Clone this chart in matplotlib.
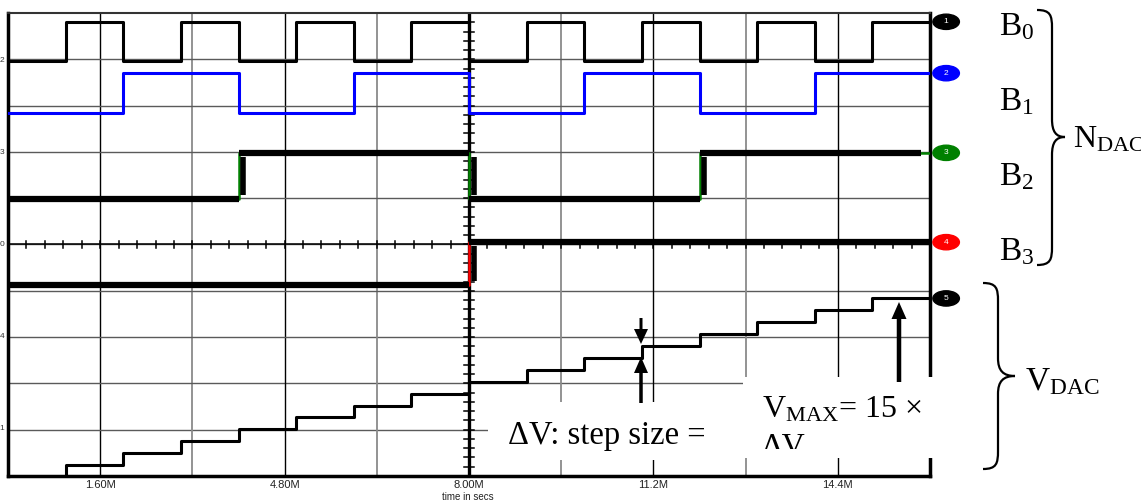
import numpy as np
import matplotlib
matplotlib.use('Agg')
import matplotlib.pyplot as plt
from matplotlib.patches import Rectangle, Polygon, Ellipse, PathPatch
from matplotlib.path import Path
from matplotlib.transforms import Affine2D, Bbox, TransformedBbox

plt.rcParams['mathtext.fontset'] = 'custom'
plt.rcParams['mathtext.rm'] = 'Liberation Serif'
plt.rcParams['mathtext.it'] = 'Liberation Serif:italic'
plt.rcParams['mathtext.bf'] = 'Liberation Serif:bold'

# ---------------- data ----------------
t_edges = [0, 1, 2, 3, 4, 5, 6, 7, 8, 9, 10, 11, 12, 13, 14, 15, 16]   # time in M secs
b0 = [0, 1, 0, 1, 0, 1, 0, 1, 0, 1, 0, 1, 0, 1, 0, 1]
b1 = [0, 0, 1, 1, 0, 0, 1, 1, 0, 0, 1, 1, 0, 0, 1, 1]
b2 = [0, 0, 0, 0, 1, 1, 1, 1, 0, 0, 0, 0, 1, 1, 1, 1]
b3 = [0, 0, 0, 0, 0, 0, 0, 0, 1, 1, 1, 1, 1, 1, 1, 1]
vdac = [0, 1, 2, 3, 4, 5, 6, 7, 8, 9, 10, 11, 12, 13, 14, 15]
tick_pos = [1.6, 4.8, 8.0, 11.2, 14.4]
tick_labels = ['1.60M', '4.80M', '8.00M', '11.2M', '14.4M']
channel_ids = ['1', '2', '3', '4', '5']
channel_colors = ['black', '#0000ff', '#008000', '#ff0000', 'black']

# ---------------- figure ----------------
W, H = 1141, 500
fig = plt.figure(figsize=(W / 100, H / 100), dpi=100)
ax = fig.add_axes([8 / W, 24 / H, 922 / W, 463 / H])
ax.set_xlim(0, 16)
ax.set_ylim(0, 10)
T = Affine2D().scale(1 / W, -1 / H).translate(0, 1) + fig.transFigure

# display placement of each channel (in screen divisions)
lv0 = (8.96, 9.81)
lv1 = (7.84, 8.70)
lv2 = (5.98, 6.98)
lv3 = (4.13, 5.05)
v_off, v_scale = -0.02, 0.257


def step_y(bits, lv):
    lo, hi = lv
    return [lo + (hi - lo) * b for b in list(bits) + [bits[-1]]]


# grid
for i in range(1, 10):
    xg = 1.6 * i
    col = 'black' if i % 2 == 1 else '#8a8a8a'
    ax.axvline(xg, color=col, lw=1.0 if i % 2 else 1.3, zorder=1)
    ax.axhline(i, color='#5a5a5a', lw=1.0, zorder=1)

# centre cross-hair with minor ticks
ax.axvline(8, color='black', lw=2.4, zorder=1.5)
ax.axhline(5, color='black', lw=1.1, zorder=1.5)
for yy in np.arange(0, 10.001, 0.2):
    ax.plot([8 - 0.09, 8 + 0.09], [yy, yy], color='black', lw=1.1, zorder=1.5)
for xx in np.arange(0, 16.001, 0.32):
    ax.plot([xx, xx], [5 - 0.065, 5 + 0.065], color='black', lw=1.1, zorder=1.5)

# spines
for s in ['left', 'bottom', 'right']:
    ax.spines[s].set_linewidth(2.5)
    ax.spines[s].set_color('black')
ax.spines['top'].set_linewidth(1.5)
ax.spines['top'].set_color('#333333')

# B0, B1 traces
ax.plot(t_edges, step_y(b0, lv0), drawstyle='steps-post', color='black', lw=2.2, zorder=3)
ax.plot(t_edges, step_y(b1, lv1), drawstyle='steps-post', color='#0000ff', lw=2.2, zorder=3)


def thick_trace(bits, lv, thin_col, end_cut=0.0):
    ys = step_y(bits, lv)
    ax.plot(t_edges, ys, drawstyle='steps-post', color=thin_col, lw=1.8, zorder=3)
    lo, hi = lv
    start = 0
    for k in range(1, len(bits) + 1):
        if k == len(bits) or bits[k] != bits[start]:
            x0 = t_edges[start]
            x1 = t_edges[k] - (end_cut if k == len(bits) else 0)
            ax.plot([x0, x1], [ys[start]] * 2, color='black', lw=4.5,
                    solid_capstyle='butt', zorder=3.5)
            start = k
    for k in range(1, len(bits)):
        if bits[k] != bits[k - 1]:
            xv = t_edges[k] + 0.08
            ax.plot([xv, xv], [lo + 0.08, hi - 0.08], color='black', lw=4.0,
                    solid_capstyle='butt', zorder=3.5)


thick_trace(b2, lv2, '#008000', end_cut=0.15)
thick_trace(b3, lv3, '#ff0000')

# V_DAC staircase
vy = [v_off + v_scale * v for v in vdac + [vdac[-1]]]
ax.plot(t_edges, vy, drawstyle='steps-post', color='black', lw=2.2, zorder=3)

# channel markers on the right
ends = [step_y(b0, lv0)[-1], step_y(b1, lv1)[-1], step_y(b2, lv2)[-1],
        step_y(b3, lv3)[-1], vy[-1]]
for cid, col, yv in zip(channel_ids, channel_colors, ends):
    ax.add_patch(Ellipse((16.28, yv), 0.46, 0.33, color=col, clip_on=False, zorder=6))
    ax.text(16.28, yv, cid, color='white', fontsize=6, ha='center', va='center',
            family='Liberation Sans', clip_on=False, zorder=7)

# ticks
ax.set_yticks([])
ax.set_xticks(tick_pos)
ax.set_xticklabels(tick_labels, family='Liberation Sans', fontsize=8, color='#222222')
ax.tick_params(axis='x', length=0, pad=3)
fig.text(468, 492, 'time in secs', transform=T, fontsize=7, family='Liberation Sans',
         ha='center', va='top', color='#222222')
for yy, s in zip([60, 152, 244, 337, 429], ['2', '3', '0', '4', '1']):
    fig.text(4, yy, s, transform=T, fontsize=6, family='Liberation Sans',
             ha='right', va='center', color='#333333')

# white annotation boxes
fig.patches.append(Rectangle((488, 402), 255, 58, transform=T, fc='white', ec='none', zorder=5))
fig.patches.append(Rectangle((743, 377), 195, 81, transform=T, fc='white', ec='none', zorder=5))


def arrow(x, y_tail, y_tip, sw, hw, hl):
    d = 1 if y_tip > y_tail else -1
    yb = y_tip - d * hl
    pts = [(x - sw / 2, y_tail), (x + sw / 2, y_tail), (x + sw / 2, yb), (x + hw / 2, yb),
           (x, y_tip), (x - hw / 2, yb), (x - sw / 2, yb)]
    fig.patches.append(Polygon(pts, closed=True, transform=T, fc='black', ec='none', zorder=8))


arrow(641, 318, 344, 3, 14, 15)
arrow(641, 403, 357, 3.5, 14, 16)
arrow(899, 382, 302, 4.5, 15, 17)

# annotation texts
serif = 'Liberation Serif'
fig.text(508, 444, 'ΔV: step size =', transform=T, fontsize=23.5, family=serif,
         ha='left', va='baseline', zorder=9)
fig.text(762, 418, r'$\mathrm{V}_{\mathrm{MAX}}$= 15 ×', transform=T, fontsize=23,
         family=serif, ha='left', va='baseline', zorder=9)
t2 = fig.text(762, 455, 'ΔV', transform=T, fontsize=23, family=serif,
              ha='left', va='baseline', zorder=9)
t2.set_clip_box(TransformedBbox(Bbox.from_extents(740, 0, 940, 449), T))
t2.set_clip_on(True)

for yb, sub in zip([35, 110, 185, 260], ['0', '1', '2', '3']):
    fig.text(999, yb, r'$\mathrm{B}_{%s}$' % sub, transform=T, fontsize=24,
             ha='left', va='baseline')
fig.text(1073, 147, r'$\mathrm{N}_{\mathrm{DAC}}$', transform=T, fontsize=23,
         ha='left', va='baseline')
fig.text(1025, 390, r'$\mathrm{V}_{\mathrm{DAC}}$', transform=T, fontsize=24,
         ha='left', va='baseline')


def brace(xl, xv, xt, yt, ym, yb, r=18):
    verts = [(xl, yt),
             (xl + (xv - xl) * 0.9, yt), (xv, yt + r * 0.3), (xv, yt + r),
             (xv, ym - r),
             (xv, ym - r * 0.3), (xv + (xt - xv) * 0.3, ym), (xt, ym),
             (xv + (xt - xv) * 0.3, ym), (xv, ym + r * 0.3), (xv, ym + r),
             (xv, yb - r),
             (xv, yb - r * 0.3), (xl + (xv - xl) * 0.9, yb), (xl, yb)]
    codes = [Path.MOVETO, Path.CURVE4, Path.CURVE4, Path.CURVE4, Path.LINETO,
             Path.CURVE4, Path.CURVE4, Path.CURVE4, Path.CURVE4, Path.CURVE4, Path.CURVE4,
             Path.LINETO, Path.CURVE4, Path.CURVE4, Path.CURVE4]
    fig.patches.append(PathPatch(Path(verts, codes), transform=T, fc='none', ec='black',
                                 lw=1.6, zorder=6))


brace(1037, 1052, 1065, 10, 137, 265)
brace(983, 998, 1015, 283, 376, 469)

fig.savefig('out.png', dpi=100)
